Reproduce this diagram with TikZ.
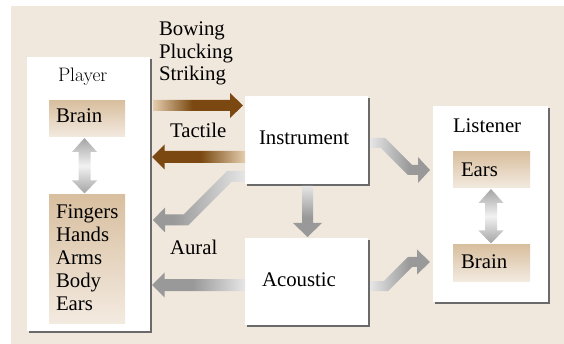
\documentclass[tikz,border=0pt]{standalone}
\usepackage{fontspec}
\setmainfont{Liberation Serif}
\newfontfamily\timesf{Liberation Serif}
\newfontfamily\lmr{Latin Modern Roman}
\usetikzlibrary{calc,shadows}
\definecolor{bgc}{HTML}{F1E8DD}
\definecolor{shadowc}{HTML}{6A6A6A}
\definecolor{tanT}{HTML}{D8BF9F}
\definecolor{tanB}{HTML}{F3EAE0}
\definecolor{brD}{HTML}{7A4810}
\definecolor{brL}{HTML}{E4CDAE}
\definecolor{gD}{HTML}{999999}
\definecolor{gL}{HTML}{E6E6E6}
\definecolor{gM}{HTML}{F2F2F2}
\definecolor{gE}{HTML}{A4A4A4}
\pgfdeclarehorizontalshading{brRight}{100bp}{color(0bp)=(brL); color(25bp)=(brL); color(47bp)=(brD); color(100bp)=(brD)}
\pgfdeclarehorizontalshading{brLeft}{100bp}{color(0bp)=(brD); color(51bp)=(brD); color(75bp)=(brL); color(100bp)=(brL)}
\pgfdeclarehorizontalshading{gLeft}{100bp}{color(0bp)=(gD); color(47bp)=(gD); color(75bp)=(gL); color(100bp)=(gL)}
\pgfdeclarehorizontalshading{gDiag}{100bp}{color(0bp)=(gD); color(36bp)=(gD); color(75bp)=(gL); color(100bp)=(gL)}
\pgfdeclarehorizontalshading{gRight}{100bp}{color(0bp)=(gL); color(25bp)=(gL); color(58bp)=(gD); color(100bp)=(gD)}
\pgfdeclareverticalshading{gDown}{100bp}{color(0bp)=(gD); color(45bp)=(gD); color(75bp)=(gL); color(100bp)=(gL)}
% horizontal fat arrows: #1 shading, #2 start, #3 tip
\newcommand\fatRight[3]{\shade[shading=#1] ($(#2)+(0,-5.5)$) -- ($(#3)+(-13,-5.5)$) -- ($(#3)+(-13,-12.5)$) -- (#3) -- ($(#3)+(-13,12.5)$) -- ($(#3)+(-13,5.5)$) -- ($(#2)+(0,5.5)$) -- cycle;}
\newcommand\fatLeft[3]{\shade[shading=#1] ($(#2)+(0,-6)$) -- ($(#3)+(12.5,-6)$) -- ($(#3)+(12.5,-12.5)$) -- (#3) -- ($(#3)+(12.5,12.5)$) -- ($(#3)+(12.5,6)$) -- ($(#2)+(0,6)$) -- cycle;}
\newcommand\fatDouble[2]{\shade[top color=gE, bottom color=gE, middle color=gM] (#1) -- ($(#1)+(12.5,14)$) -- ($(#1)+(6,14)$) -- ($(#2)+(6,-13)$) -- ($(#2)+(12.5,-13)$) -- (#2) -- ($(#2)+(-12.5,-13)$) -- ($(#2)+(-6,-13)$) -- ($(#1)+(-6,14)$) -- ($(#1)+(-12.5,14)$) -- cycle;}
\begin{document}
\begin{tikzpicture}[x=1pt,y=-1pt,
  box/.style={fill=white, draw=none, inner sep=0pt, outer sep=0pt,
    drop shadow={shadow xshift=2pt, shadow yshift=-2pt, fill=shadowc, opacity=1}},
  tanbox/.style={inner sep=0pt, outer sep=0pt, top color=tanT, bottom color=tanB},
  lbl/.style={inner sep=0pt, outer sep=0pt, anchor=base west, font=\timesf\fontsize{20.8}{22.9}\selectfont}]
\useasboundingbox (0,0) rectangle (564,344);
\fill[bgc] (11,6) rectangle (564,344);
% boxes
\node[box, minimum width=123pt, minimum height=274pt] (player) at (88.5,194) {};
\node[box, minimum width=123pt, minimum height=88pt] (instr) at (306.5,140) {};
\node[box, minimum width=123pt, minimum height=87pt] (acou) at (306.5,281.5) {};
\node[box, minimum width=115pt, minimum height=196pt] (listener) at (490.5,204) {};
\node[tanbox, minimum width=76pt, minimum height=36pt] (pbrain) at (87,119) {};
\node[tanbox, minimum width=76pt, minimum height=128pt] (pbody) at (87,259) {};
\node[tanbox, minimum width=77pt, minimum height=36pt] (lears) at (491.5,170) {};
\node[tanbox, minimum width=77pt, minimum height=36pt] (lbrain) at (491.5,263) {};
% texts
\node[lbl] (tbow) at (159,36) {Bowing};
\node[lbl] (tpluck) at (159,58.5) {Plucking};
\node[lbl] (tstrike) at (159,81) {Striking};
\node[lbl, font=\lmr\fontsize{19.5}{22.9}\selectfont] (tplayer) at (58,82) {Player};
\node[lbl] (tpbrain) at (56,122.5) {Brain};
\node[lbl] (ttactile) at (170,138) {Tactile};
\node[lbl] (tinstr) at (259,145) {Instrument};
\node[lbl] (tlistener) at (453,133) {Listener};
\node[lbl] (tlears) at (461,176.5) {Ears};
\node[lbl] (tlbrain) at (461,268.7) {Brain};
\node[lbl] (tfing) at (56,218.7) {Fingers};
\node[lbl] (thands) at (56,241.6) {Hands};
\node[lbl] (tarms) at (56,264.5) {Arms};
\node[lbl] (tbody) at (56,287.4) {Body};
\node[lbl] (tears) at (56,310.3) {Ears};
\node[lbl] (taural) at (170,255) {Aural};
\node[lbl] (tacou) at (262,287) {Acoustic};
% connector end points
\coordinate (bowS) at (153,105.5);
\coordinate (bowT) at (243,105.5);
\coordinate (tacS) at (245,157);
\coordinate (tacT) at (152,157);
\coordinate (aurS) at (245,285);
\coordinate (aurT) at (152,285);
\coordinate (dgS) at (245,176.5);
\coordinate (dgT) at (153,220);
\coordinate (ilS) at (370,143);
\coordinate (ilT) at (430,170);
\coordinate (alS) at (370,286);
\coordinate (alT) at (430,262);
\coordinate (iaS) at (307.5,186);
\coordinate (iaT) at (307.5,237);
\coordinate (pdT) at (84.5,138);
\coordinate (pdB) at (84.5,193.5);
\coordinate (ldT) at (491,189);
\coordinate (ldB) at (491,243.5);
% connectors
\fatRight{brRight}{bowS}{bowT}
\fatLeft{brLeft}{tacS}{tacT}
\fatLeft{gLeft}{aurS}{aurT}
\shade[shading=gDiag] ($(dgS)+(0,-5.5)$) -- ($(dgS)+(-18,-5.5)$) -- ($(dgT)+(30.5,-5.5)$) -- ($(dgT)+(12,-5.5)$) -- ($(dgT)+(12,-12.5)$) -- (dgT) -- ($(dgT)+(12,12.5)$) -- ($(dgT)+(12,5.5)$) -- ($(dgT)+(35.1,5.5)$) -- ($(dgS)+(-13.4,5.5)$) -- ($(dgS)+(0,5.5)$) -- cycle;
\shade[shading=gRight] ($(ilS)+(0,-5)$) -- ($(ilS)+(15.07,-5)$) -- ($(ilT)+(-17.93,-5)$) -- ($(ilT)+(-12,-5)$) -- ($(ilT)+(-12,-13)$) -- (ilT) -- ($(ilT)+(-12,13)$) -- ($(ilT)+(-12,5)$) -- ($(ilT)+(-22.07,5)$) -- ($(ilS)+(10.93,5)$) -- ($(ilS)+(0,5)$) -- cycle;
\shade[shading=gRight] ($(alS)+(0,-5)$) -- ($(alS)+(13.93,-5)$) -- ($(alT)+(-22.07,-5)$) -- ($(alT)+(-13,-5)$) -- ($(alT)+(-13,-12.5)$) -- (alT) -- ($(alT)+(-13,12.5)$) -- ($(alT)+(-13,5)$) -- ($(alT)+(-17.93,5)$) -- ($(alS)+(18.07,5)$) -- ($(alS)+(0,5)$) -- cycle;
\shade[shading=gDown] ($(iaS)+(-5.5,0)$) -- ($(iaT)+(-5.5,-14)$) -- ($(iaT)+(-14.5,-14)$) -- (iaT) -- ($(iaT)+(14.5,-14)$) -- ($(iaT)+(5.5,-14)$) -- ($(iaS)+(5.5,0)$) -- cycle;
\fatDouble{pdT}{pdB}
\fatDouble{ldT}{ldB}
\end{tikzpicture}
\end{document}
